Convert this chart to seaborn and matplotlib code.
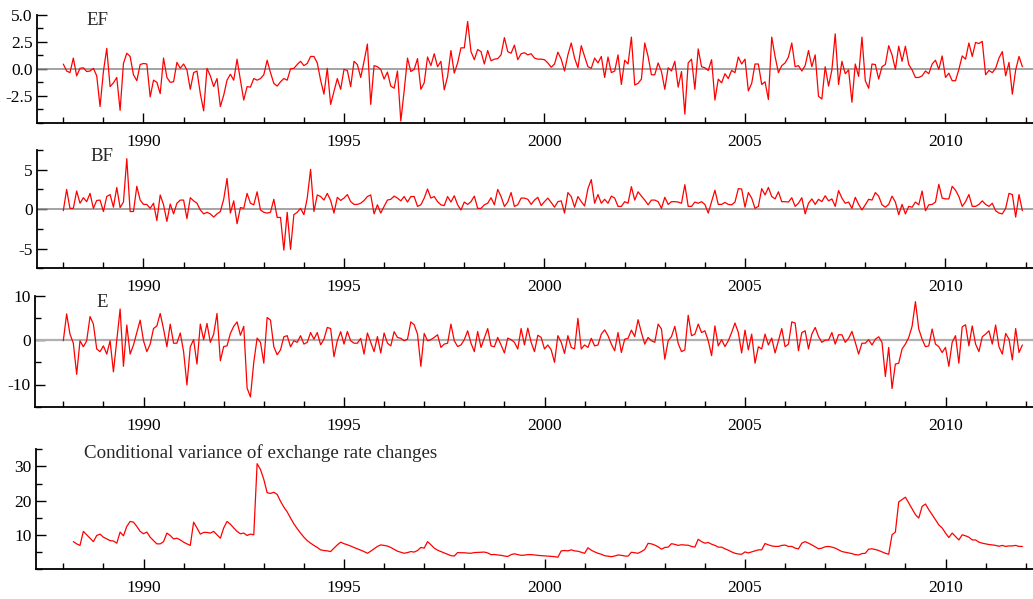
import numpy as np
import pandas as pd
import matplotlib
matplotlib.use("Agg")
import matplotlib.pyplot as plt
from matplotlib.ticker import FixedLocator, MultipleLocator, FormatStrFormatter
import seaborn as sns

# ==========================================
# 1. DATA (monthly, 1988(1) - 2011(12))
# ==========================================
start_year = 1988

ef = [
    0.44, -0.2, -0.35, 1.0, -0.65, 0.05, 0.1, -0.25, -0.2, 0.05, -0.65, -3.5,
    -0.25, 1.9, -1.65, -1.3, -0.8, -3.85, 0.5, 1.45, 1.15, -0.55, -1.1, 0.4,
    0.5, 0.45, -2.6, -1.05, -1.25, -2.3, 1.0, -0.8, -1.25, -1.2, 0.6, 0.05,
    0.45, -0.1, -1.9, -0.35, -0.2, -2.3, -3.9, 0.05, -0.65, -1.65, -0.9, -3.5,
    -2.45, -1.05, -0.5, -1.05, 0.9, -1.05, -2.9, -1.65, -1.7, -0.9, -1.05, -0.9,
    -0.55, 0.8, -0.35, -1.35, -1.6, -1.2, -0.9, -1.05, 0.0, 0.05, 0.4, 0.7,
    0.3, 0.5, 1.15, 1.15, 0.55, -1.05, -2.35, 0.05, -3.3, -2.1, -0.9, -1.9,
    -0.05, -0.15, -1.65, 0.7, 0.4, -0.8, 0.7, 2.3, -3.3, 0.3, 0.2, -0.05,
    -0.95, -0.3, -1.6, -1.8, -0.2, -4.85, -2.05, 1.0, -0.25, -0.05, 0.95, -1.9,
    -1.3, 1.1, 0.3, 1.4, 0.2, 0.7, -1.95, -0.7, 1.7, -0.4, 0.55, 1.95,
    1.95, 4.4, 1.6, 0.85, 1.8, 1.6, 0.45, 1.7, 0.75, 0.9, 0.95, 1.3,
    2.9, 1.6, 1.45, 2.2, 0.85, 1.4, 1.5, 1.3, 1.4, 1.0, 0.9, 0.9,
    0.85, 0.55, 0.15, 0.45, 1.55, 0.9, -0.2, 1.3, 2.4, 1.0, 0.1, 2.15,
    1.15, 0.2, 0.05, 1.0, 0.55, 1.15, -0.8, 1.1, -0.35, -0.2, 1.3, -1.45,
    0.8, 0.45, 2.95, -1.5, -1.35, -0.95, 2.4, 1.15, -0.55, -0.55, 0.55, -0.25,
    -1.9, 0.1, -0.2, 0.7, -1.7, -0.25, -4.2, 0.55, 0.9, -1.9, 1.85, 0.2,
    0.1, -0.15, 0.85, -2.9, -0.95, -1.3, -0.45, -0.9, -0.15, -0.35, 1.1, 0.45,
    0.9, -2.05, -1.35, 0.45, 0.45, -1.45, -1.2, -2.85, 2.95, 1.15, -0.35, 0.3,
    0.55, 1.1, 2.4, 0.2, 0.3, -0.2, 0.3, 1.7, 0.2, 1.3, -2.55, -2.8,
    0.2, -1.6, -0.1, 3.25, -1.45, 0.7, -0.45, -0.1, -3.1, 0.45, -0.7, 2.95,
    -1.1, -1.8, 0.45, 0.4, -0.95, 0.2, 0.4, 2.15, 1.3, -0.05, 2.1, 0.7,
    2.1, 0.4, -0.1, -0.8, -0.8, -0.65, -0.2, -0.45, 0.45, 0.8, -0.05, 1.2,
    -0.8, -0.4, -1.1, -1.1, -0.05, 1.2, 0.9, 2.4, 1.15, 2.45, 2.35, 2.55,
    -0.55, -0.15, -0.35, 0.05, 1.0, 1.6, -0.65, 0.6, -2.35, -0.1, 1.15, 0.2,
]

bf = [
    -0.2, 2.5, 0.1, 0.1, 2.3, 0.75, 1.45, 0.95, 2.0, 0.1, 1.1, 1.15,
    -0.3, 1.6, 1.85, 0.25, 2.75, 0.2, 0.9, 6.4, -0.3, -0.3, 2.9, 1.15,
    0.6, 0.6, 0.1, 0.75, -1.45, 1.8, 0.55, -1.55, 0.65, -0.6, 0.75, 1.15,
    1.15, -1.2, 1.45, 1.05, 0.75, -0.1, -0.6, -0.4, -0.6, -1.0, -0.6, -0.3,
    1.25, 3.9, -0.5, 1.05, -1.85, 0.2, 0.1, 2.0, 0.75, 0.55, 2.2, -0.1,
    -0.4, -0.5, -0.4, 1.25, -1.05, -1.05, -5.2, -0.4, -5.1, -0.7, -0.4, 0.1,
    -0.7, 1.4, 5.05, -0.3, 1.8, 1.6, 1.15, 2.0, 1.1, -0.5, 1.5, 1.1,
    1.4, 1.85, 0.95, 0.6, 0.6, 0.75, 1.1, 1.6, 1.8, -0.6, 0.55, -0.5,
    0.35, 1.15, 1.25, 1.65, 1.4, 1.05, 1.6, 0.9, 1.6, 1.6, 0.35, 0.55,
    1.4, 2.55, 1.4, 1.6, 0.95, 0.55, 0.45, 1.6, 0.9, 1.7, 0.55, -0.1,
    0.9, 0.6, 0.95, 1.65, 0.1, 0.1, 0.55, 0.75, 1.45, 0.55, 2.5, 1.6,
    0.35, 0.9, 2.1, 0.35, 0.55, 1.4, 1.4, 1.25, 0.6, 1.15, 1.5, 0.45,
    0.95, 1.4, 0.85, 0.25, 0.95, 1.05, -0.5, 2.1, 1.6, 0.25, 1.6, 0.95,
    0.4, 2.6, 3.75, 0.75, 1.85, 0.75, 1.25, 0.75, 1.65, 1.4, 0.35, 0.35,
    0.95, 0.75, 2.85, 1.15, 2.2, 1.65, 1.15, 0.55, 1.15, 1.15, 0.95, 0.1,
    1.5, 0.6, 0.95, 0.95, 0.9, 0.75, 3.1, 0.35, 0.35, 0.9, 0.75, 0.95,
    0.6, -0.5, 0.95, 2.4, 0.6, 0.6, 0.85, 0.6, 0.55, 0.9, 2.6, 2.55,
    0.25, 2.1, 1.4, 0.1, 0.35, 2.6, 1.8, 2.75, 1.6, 1.3, 2.2, 0.95,
    0.95, 0.9, 1.45, 0.35, 0.75, 1.45, -0.6, 0.75, 1.3, 0.6, 1.25, 0.95,
    1.7, 1.05, 1.3, 0.35, 2.35, 1.4, 0.75, 0.9, 0.1, 1.5, 0.6, -0.1,
    0.55, 1.25, 1.15, 2.1, 1.65, 0.55, 0.25, 0.6, 1.65, 0.9, -0.7, 0.6,
    -0.6, 0.35, 0.25, 0.9, 0.55, 2.3, -0.2, 0.55, 0.6, 0.9, 3.15, 1.4,
    1.3, 1.3, 2.9, 2.4, 1.6, 0.35, 0.95, 1.85, 0.35, 0.35, 0.6, 1.05,
    0.6, 0.35, 0.75, -0.2, -0.5, -0.6, 0.1, 2.0, 1.85, -1.0, 1.85, -0.2,
]

e = [
    -0.15, 5.9, 1.35, -0.7, -7.7, -0.15, -1.5, -0.15, 5.3, 3.6, -2.0, -2.6,
    -1.3, -3.15, -0.15, -7.15, -0.15, 7.0, -5.9, 3.4, -3.15, -1.1, 1.7, 4.5,
    -0.15, -2.6, -0.9, 2.6, 3.2, 6.0, 2.5, -1.5, 3.6, -0.7, -0.7, 1.6,
    -2.6, -10.1, -1.5, 0.1, -5.4, 3.6, 0.1, 3.75, -0.5, 1.35, 6.0, -4.65,
    -1.45, -1.3, 1.5, 3.1, 4.1, 1.1, 3.1, -10.8, -12.8, -5.0, 0.45, -0.5,
    -5.2, 5.1, 4.5, -1.5, -3.3, -2.2, 0.75, 1.0, -1.5, -0.15, -0.5, 1.0,
    -0.9, -0.5, 1.7, 0.2, 1.7, -1.05, 0.2, 2.85, 2.6, -3.75, -0.15, 1.9,
    -0.9, 1.95, -0.15, -0.7, -0.7, 0.4, -3.15, 1.6, -0.5, -2.6, 0.8, -2.9,
    1.6, -0.7, -1.3, 1.9, 0.6, 0.4, -0.15, 0.2, 4.1, 3.45, 1.35, -5.9,
    1.5, -0.15, 0.1, 0.6, 1.2, -1.65, -0.9, -0.7, 3.6, -0.15, -1.45, -1.1,
    0.1, 2.1, -0.7, -2.6, 1.95, -1.65, 0.45, 2.6, -1.3, -1.5, 0.6, -1.1,
    -2.9, 0.45, 0.1, -0.5, -2.0, 2.6, -1.1, 2.7, -0.5, -2.6, 1.1, 0.6,
    -2.0, -1.1, -2.2, -5.0, 1.0, -0.5, -3.0, 1.0, -1.65, -2.0, 4.9, -2.0,
    -1.1, -1.65, 0.4, -1.3, -1.1, 1.35, 2.3, 1.0, -0.9, -2.4, 1.7, -2.8,
    0.2, 0.4, 2.25, 0.8, 4.6, 1.7, -0.9, 0.6, -0.15, -0.5, 3.6, 2.5,
    -4.3, -0.15, 0.8, 3.1, -0.75, -2.6, -2.2, 5.6, 0.98, 1.35, 3.6, 1.7,
    2.1, -0.15, -3.5, 3.2, -1.3, 0.1, -1.45, -0.15, 1.7, 3.85, 1.7, -2.9,
    2.25, -2.2, 1.35, -5.2, -1.5, -2.0, 1.35, -1.1, 0.45, -2.9, -0.15, 2.6,
    -1.5, -0.9, 4.1, 3.85, -2.4, 1.7, 2.1, -2.0, 1.35, 2.85, 0.8, -0.5,
    0.0, 0.0, 1.7, -0.9, 1.2, 1.2, -0.5, 0.4, 1.95, -0.5, -3.15, -0.7,
    -0.7, 0.1, -1.1, 0.2, 0.75, -0.5, -8.2, -1.65, -10.9, -5.4, -5.2, -2.0,
    -0.9, 0.6, 3.1, 8.65, 2.5, 0.2, -1.5, -1.3, 2.5, -0.9, -1.5, -2.8,
    -1.65, -5.9, -0.5, 1.0, -5.2, 3.0, 3.45, -1.3, 3.2, -0.9, -2.6, 0.75,
    1.35, 2.1, -0.9, 3.4, -1.5, -3.15, 1.5, 0.2, -4.45, 2.6, -2.8, -1.1,
]

# conditional variance starts at 1988(4)
var_start = 3
cond_var = [
    8.0, 7.35, 6.9, 11.0, 10.0, 9.0, 8.0, 9.8, 10.2,
    9.3, 8.8, 8.3, 8.2, 7.55, 10.8, 9.7, 12.45, 13.9, 13.7, 12.45, 11.0,
    10.3, 10.8, 9.3, 8.3, 7.35, 7.35, 8.0, 10.5, 9.8, 8.8, 9.0, 8.5,
    7.85, 7.35, 6.9, 13.7, 12.0, 10.2, 10.7, 10.7, 10.5, 11.0, 10.0, 9.0,
    12.0, 13.9, 13.1, 12.0, 11.0, 10.3, 10.5, 9.8, 10.2, 10.0, 30.8, 29.1,
    26.2, 22.3, 22.1, 22.45, 21.8, 19.8, 18.1, 16.7, 14.9, 13.2, 11.8, 10.5,
    9.3, 8.3, 7.55, 6.9, 6.3, 5.6, 5.4, 5.3, 5.1, 6.1, 7.05, 7.85,
    7.4, 7.1, 6.7, 6.3, 5.9, 5.5, 5.1, 4.6, 5.2, 5.9, 6.6, 7.05,
    6.9, 6.7, 6.3, 5.75, 5.2, 4.9, 4.6, 4.8, 5.1, 4.95, 5.4, 6.3,
    6.1, 8.0, 7.1, 6.1, 5.5, 5.1, 4.7, 4.3, 3.9, 3.8, 4.8, 4.75,
    4.75, 4.65, 4.6, 4.8, 4.85, 4.9, 4.95, 4.7, 4.2, 4.25, 4.1, 4.0,
    3.8, 3.65, 4.2, 4.45, 4.2, 4.0, 4.05, 4.2, 4.2, 4.1, 4.0, 3.9,
    3.85, 3.75, 3.7, 3.6, 3.45, 5.3, 5.4, 5.3, 5.6, 5.3, 5.2, 4.9,
    4.6, 6.2, 5.5, 5.0, 4.6, 4.3, 3.9, 3.75, 3.6, 3.8, 4.1, 4.0,
    3.8, 3.75, 4.9, 4.75, 4.6, 5.1, 5.7, 7.5, 7.35, 7.0, 6.5, 5.8,
    6.3, 6.4, 7.4, 7.2, 6.9, 7.1, 7.0, 6.95, 6.6, 6.4,
    8.7, 8.0, 7.55, 7.75, 7.25, 6.9, 6.4, 6.4, 5.9, 5.5, 5.0, 4.6,
    4.4, 4.3, 5.0, 4.7, 5.0, 5.3, 5.6, 5.6, 7.45, 7.05, 6.75, 6.6,
    6.6, 6.9, 7.0, 6.6, 6.6, 6.1, 5.9, 7.55, 8.0, 7.55, 7.05, 6.5,
    5.9, 6.1, 6.5, 6.6, 6.4, 6.1, 5.6, 5.1, 4.9, 4.7, 4.5, 4.2,
    4.1, 4.5, 4.6, 5.8, 5.9, 5.7, 5.4, 5.0, 4.6, 4.3, 10.0, 10.8,
    19.6, 20.3, 21.0, 19.3, 17.6, 15.9, 14.9, 18.3, 19.0, 17.35, 15.9, 14.4,
    12.9, 12.0, 10.5, 9.2, 10.5, 9.5, 8.5, 10.0, 9.7, 9.3, 8.5, 8.5,
    7.85, 7.55, 7.35, 7.15, 7.05, 6.9, 6.65, 6.9, 6.6, 6.75, 6.75, 6.9,
    6.6, 6.6,
]

titles = ["EF", "BF", "E", "Conditional variance of exchange rate changes"]
year_ticks = [1990, 1995, 2000, 2005, 2010]

t_main = start_year + np.arange(len(ef)) / 12
t_var = start_year + (var_start + np.arange(len(cond_var))) / 12
df = pd.DataFrame({"t": t_main, "EF": ef, "BF": bf, "E": e})
df_var = pd.DataFrame({"t": t_var, "var": cond_var})

# ==========================================
# 2. STYLE
# ==========================================
sns.set_theme(style="ticks")
plt.rcParams["font.family"] = ["Liberation Serif", "DejaVu Serif"]
plt.rcParams["axes.unicode_minus"] = False
plt.rcParams["font.size"] = 12.5

W, H = 1033, 599
fig = plt.figure(figsize=(W / 100, H / 100), dpi=100)

# panel boxes in pixels: left, top, bottom (all run to the right edge)
boxes = [(37, 15, 122.7), (37, 150, 268.3), (35, 295.7, 406.7), (36, 449.3, 569)]
# y settings: limits, major ticks, minor step, label format
y_setup = [
    ((-5, 5), [-2.5, 0, 2.5, 5], 1.25, "%.1f"),
    ((-7.5, 7.5), [-5, 0, 5], 2.5, "%g"),
    ((-15, 10), [-10, 0, 10], 5, "%g"),
    ((0, 35), [10, 20, 30], 5, "%g"),
]
# title anchors in pixels: x, baseline y
title_pos = [(86, 25), (90, 161), (96, 307), (84, 458)]

px_per_year = 40.1
x_first = 63.3  # pixel where 1988(1) sits

# ==========================================
# 3. DRAW
# ==========================================
series = ["EF", "BF", "E", None]
for k, (left, top, bottom) in enumerate(boxes):
    ax = fig.add_axes([left / W, 1 - bottom / H, (W - left) / W, (bottom - top) / H])

    x0 = start_year - (x_first - left) / px_per_year
    x1 = x0 + (W - left) / px_per_year

    if series[k] is not None:
        ax.axhline(0, color="#b0b0b0" if k == 2 else "#8a8a8a",
                   lw=1.6 if k == 2 else 1.1, zorder=1)
        sns.lineplot(data=df, x="t", y=series[k], ax=ax, color="red",
                     lw=0.9, estimator=None, zorder=3)
    else:
        sns.lineplot(data=df_var, x="t", y="var", ax=ax, color="red",
                     lw=0.9, estimator=None, zorder=3)

    ylim, majors, minor_step, fmt = y_setup[k]
    ax.set_xlim(x0, x1)
    ax.set_ylim(*ylim)
    ax.yaxis.set_major_locator(FixedLocator(majors))
    ax.yaxis.set_minor_locator(MultipleLocator(minor_step))
    ax.yaxis.set_major_formatter(FormatStrFormatter(fmt))
    ax.xaxis.set_major_locator(FixedLocator(year_ticks))
    ax.xaxis.set_minor_locator(MultipleLocator(1))
    ax.set_xlabel("")
    ax.set_ylabel("")

    for side in ["top", "right"]:
        ax.spines[side].set_visible(False)
    for side in ["left", "bottom"]:
        ax.spines[side].set_linewidth(1.3)
        ax.spines[side].set_color("black")

    ax.tick_params(which="both", direction="in", color="black", width=1.0,
                   labelsize=12.5, labelcolor="black")
    ax.tick_params(which="major", length=7)
    ax.tick_params(which="minor", length=4)
    ax.tick_params(axis="x", pad=8)
    ax.tick_params(axis="y", pad=3)
    ax.grid(False)

    fig.text(title_pos[k][0] / W, 1 - title_pos[k][1] / H, titles[k],
             fontsize=13.6, ha="left", va="baseline")

fig.savefig("out.png", dpi=100)
